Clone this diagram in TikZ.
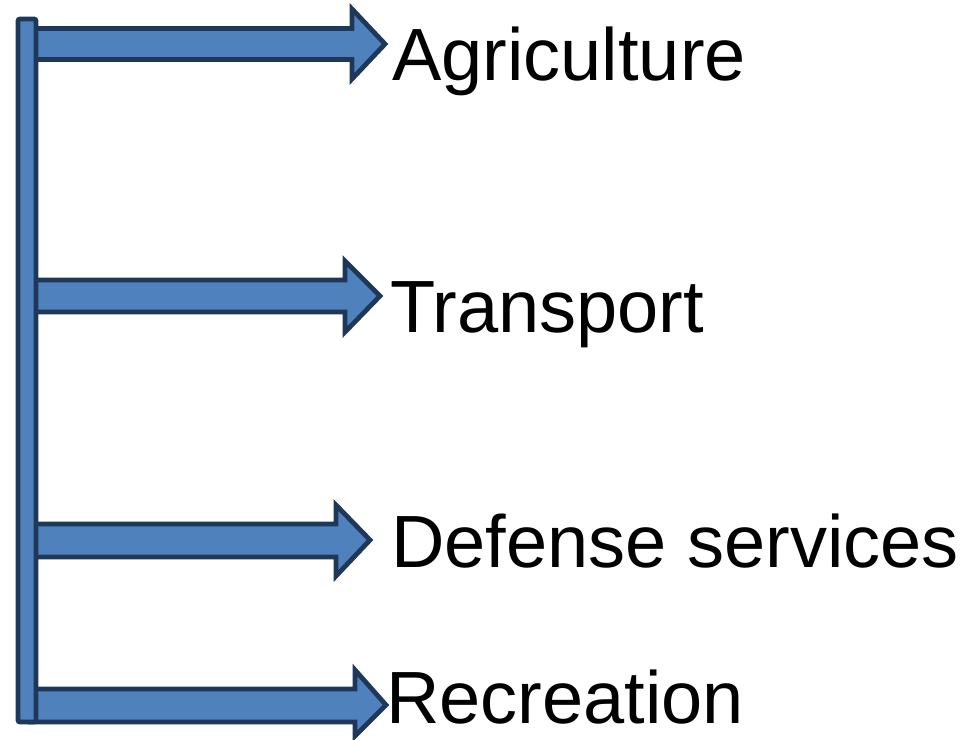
\documentclass[tikz,border=0pt]{standalone}
\usepackage{fontspec}
\setmainfont{Liberation Sans}
\definecolor{fillblue}{HTML}{4F81BD}
\definecolor{edgenavy}{HTML}{1F3859}
\begin{document}
\begin{tikzpicture}[x=0.75pt,y=-0.75pt,
  shapestyle/.style={fill=fillblue,draw=edgenavy,line width=3.6pt,line join=miter},
  lbl/.style={anchor=base west,inner sep=0pt,font=\fontsize{55.5}{60}\selectfont,text=black}]
\useasboundingbox (0,0) rectangle (969,739);
% arrows: body from bar to head base, then head
\draw[shapestyle] (30,28.5) -- (352,28.5) -- (352,9) -- (385,44) -- (352,79) -- (352,59.5) -- (30,59.5) -- cycle;
\draw[shapestyle] (30,280) -- (345,280) -- (345,261) -- (380,296) -- (345,332) -- (345,312) -- (30,312) -- cycle;
\draw[shapestyle] (30,524) -- (336,524) -- (336,505) -- (370,540) -- (336,576) -- (336,557) -- (30,557) -- cycle;
\draw[shapestyle] (30,689) -- (355,689) -- (355,670) -- (386,705) -- (355,736) -- (355,722) -- (30,722) -- cycle;
% vertical bar
\draw[shapestyle,rounded corners=1.5pt] (18,19) rectangle (36,722);
\coordinate (bar) at (27,370);
% labels
\node[lbl] (agri) at (392,80) {Agriculture};
\node[lbl] (trans) at (390,332) {Transport};
\node[lbl] (def) at (391,567) {Defense services};
\node[lbl] (rec) at (386,723) {Recreation};
\end{tikzpicture}
\end{document}
